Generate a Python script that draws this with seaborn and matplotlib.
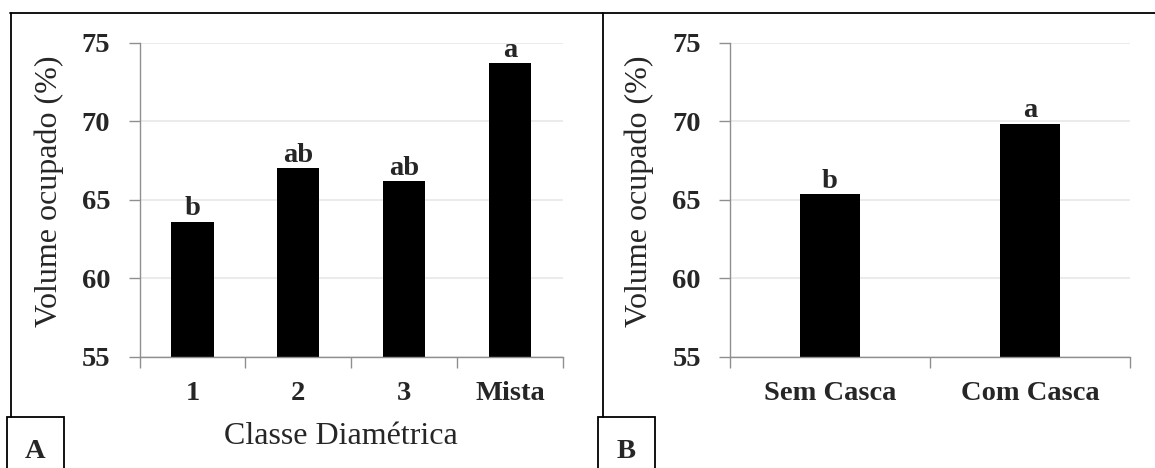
import matplotlib
matplotlib.use("Agg")
import matplotlib.pyplot as plt
import seaborn as sns
import pandas as pd
from matplotlib.lines import Line2D
from matplotlib.patches import Rectangle

# ---- data ----
classes = ["1", "2", "3", "Mista"]
vol_classes = [63.6, 67.0, 66.2, 73.7]
letters_classes = ["b", "ab", "ab", "a"]

casca = ["Sem Casca", "Com Casca"]
vol_casca = [65.35, 69.85]
letters_casca = ["b", "a"]

y_ticks = [55, 60, 65, 70, 75]
y_label = "Volume ocupado (%)"
x_label_A = "Classe Diamétrica"
panel_tags = ["A", "B"]

# ---- style ----
sns.set_style("white")
plt.rcParams['font.family'] = ['Liberation Serif', 'DejaVu Serif']

W, H = 1155, 468
fig = plt.figure(figsize=(W / 100, H / 100), dpi=100)

SPINE = "#8f8f8f"
GRID = "#e8e8e8"
TICK_FS = 20.5
LAB_FS = 23


def fx(x):
    return x / W


def fy(y):
    return 1 - y / H


def px_axes(x0, x1, ytop, ybot):
    return fig.add_axes([x0 / W, 1 - ybot / H, (x1 - x0) / W, (ybot - ytop) / H])


def draw_panel(ax, cats, vals, letters, width):
    df = pd.DataFrame({"cat": cats, "val": vals})
    sns.barplot(data=df, x="cat", y="val", color="black", width=width,
                saturation=1, ax=ax, linewidth=0, errorbar=None)
    n = len(cats)
    ax.set_xlim(-0.5, n - 0.5)
    ax.set_ylim(55, 75)
    ax.set_yticks(y_ticks)
    ax.set_yticklabels([str(t) for t in y_ticks], fontweight="bold", fontsize=TICK_FS)
    ax.set_xticks([i - 0.5 for i in range(n + 1)])
    ax.set_xticklabels([""] * (n + 1))
    ax.set_xticks(list(range(n)), minor=True)
    ax.set_xticklabels(cats, minor=True, fontweight="bold", fontsize=TICK_FS)
    ax.tick_params(axis="x", which="major", length=8, width=1, color=SPINE,
                   direction="out", bottom=True)
    ax.tick_params(axis="x", which="minor", length=0, pad=18)
    ax.tick_params(axis="y", which="major", length=8, width=1, color=SPINE,
                   direction="out", left=True, pad=13)
    ax.set_xlabel("")
    ax.set_ylabel("")
    for s in ["top", "right"]:
        ax.spines[s].set_visible(False)
    for s in ["left", "bottom"]:
        ax.spines[s].set_color(SPINE)
        ax.spines[s].set_linewidth(1)
    ax.set_axisbelow(True)
    ax.yaxis.grid(True, color=GRID, linewidth=1.2)
    ax.xaxis.grid(False)
    for i, (v, l) in enumerate(zip(vals, letters)):
        ax.annotate(l, (i, v), xytext=(0, 4.5), textcoords="offset points",
                    ha="center", va="baseline", fontweight="bold",
                    fontsize=TICK_FS, annotation_clip=False)


axA = px_axes(139.5, 563, 43, 356.5)
axB = px_axes(730, 1130, 43, 356.5)
draw_panel(axA, classes, vol_classes, letters_classes, 0.4)
draw_panel(axB, casca, vol_casca, letters_casca, 0.3)

# axis labels
fig.text(fx(49), fy(191), y_label, rotation=90, fontsize=LAB_FS,
         ha="center", va="center")
fig.text(fx(639.5), fy(191), y_label, rotation=90, fontsize=LAB_FS,
         ha="center", va="center")
fig.text(fx(341), fy(444), x_label_A, fontsize=LAB_FS, ha="center", va="baseline")

# frame lines
lw = 1.3
fig.add_artist(Line2D([fx(10), fx(W)], [fy(13), fy(13)], color="black", lw=lw))
fig.add_artist(Line2D([fx(10.5), fx(10.5)], [fy(13), fy(417)], color="black", lw=lw))
fig.add_artist(Line2D([fx(602.5), fx(602.5)], [fy(13), fy(417)], color="black", lw=lw))

# panel tag boxes
for (x0, x1), tag in zip([(7, 64), (598, 655)], panel_tags):
    fig.add_artist(Rectangle((fx(x0), fy(475)), fx(x1) - fx(x0), fy(417) - fy(475),
                             fill=False, edgecolor="black", lw=lw,
                             transform=fig.transFigure))
    fig.text(fx((x0 + x1) / 2), fy(458), tag, fontsize=TICK_FS, fontweight="bold",
             ha="center", va="baseline")

fig.savefig("out.png", dpi=100)
